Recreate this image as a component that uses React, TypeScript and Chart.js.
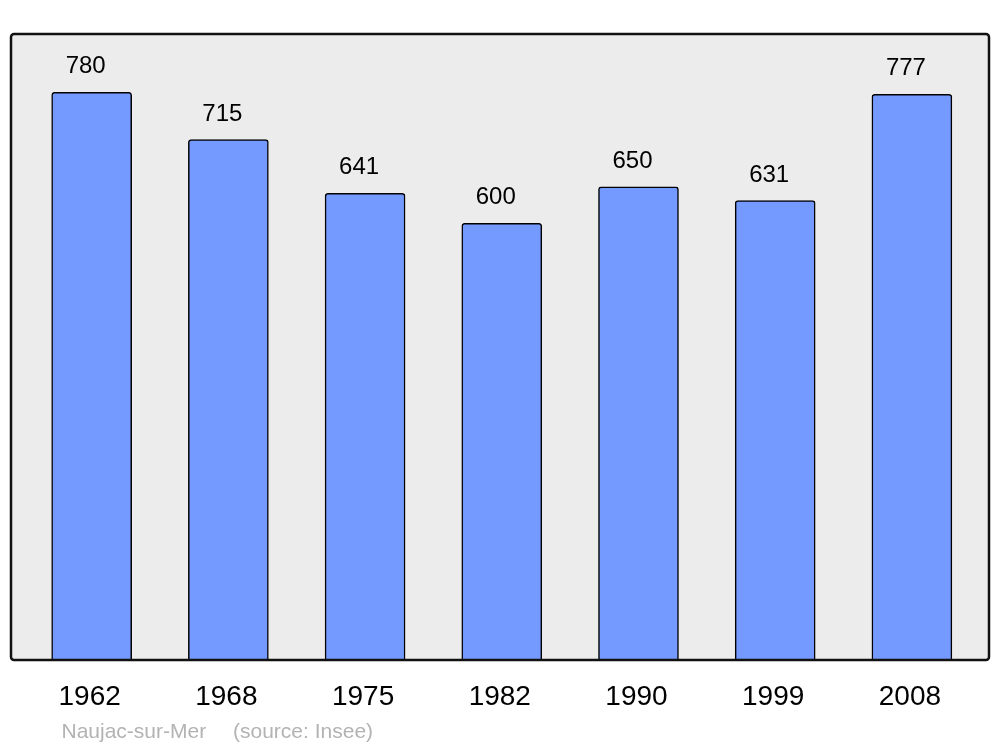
import React, { useEffect, useRef } from "react";
import { Chart, registerables } from "chart.js";

Chart.register(...registerables);

const years = ["1962", "1968", "1975", "1982", "1990", "1999", "2008"];
const population = [780, 715, 641, 600, 650, 631, 777];
const footerTitle = "Naujac-sur-Mer";
const footerSource = "(source: Insee)";

const FONT = "'Liberation Sans', Arial, sans-serif";

const framePlugin = {
  id: "frame",
  beforeDatasetsDraw(chart: any) {
    const { ctx, chartArea: a } = chart;
    ctx.save();
    ctx.beginPath();
    ctx.roundRect(a.left, a.top, a.right - a.left, a.bottom - a.top, 3);
    ctx.fillStyle = "#ececec";
    ctx.fill();
    ctx.restore();
  },
  afterDatasetsDraw(chart: any) {
    const { ctx, chartArea: a } = chart;
    ctx.save();
    ctx.beginPath();
    ctx.roundRect(a.left, a.top, a.right - a.left, a.bottom - a.top, 3);
    ctx.lineWidth = 2.5;
    ctx.strokeStyle = "#111111";
    ctx.stroke();

    // value labels
    const meta = chart.getDatasetMeta(0);
    ctx.fillStyle = "#000000";
    ctx.textAlign = "center";
    ctx.textBaseline = "alphabetic";
    ctx.font = `24px ${FONT}`;
    meta.data.forEach((el: any, i: number) => {
      ctx.fillText(String(population[i]), el.x - 6, el.y - 19);
    });

    // category labels
    const xs = chart.scales.x;
    ctx.font = `28px ${FONT}`;
    years.forEach((y, i) => {
      ctx.fillText(y, xs.getPixelForValue(i) - 2, a.bottom + 45);
    });

    // footer
    ctx.textAlign = "left";
    ctx.font = `21px ${FONT}`;
    ctx.fillStyle = "#b3b3b3";
    ctx.fillText(footerTitle, 61.5, a.bottom + 78);
    ctx.fillText(footerSource, 233, a.bottom + 78);
    ctx.restore();
  },
};

export default function App() {
  const ref = useRef<HTMLCanvasElement>(null);
  useEffect(() => {
    if (!ref.current) return;
    const chart = new Chart(ref.current, {
      type: "bar",
      data: {
        datasets: [
          {
            data: population.map((v, i) => ({ x: i, y: v })),
            backgroundColor: "#7499ff",
            borderColor: "#000000",
            borderWidth: 1.5,
            borderSkipped: "bottom",
            borderRadius: { topLeft: 3, topRight: 3, bottomLeft: 0, bottomRight: 0 },
            barThickness: 80,
          },
        ],
      },
      options: {
        responsive: false,
        animation: false,
        devicePixelRatio: 1,
        layout: { padding: { left: 11, top: 34, right: 11, bottom: 87 } },
        plugins: { legend: { display: false }, tooltip: { enabled: false } },
        scales: {
          x: { type: "linear", display: false, offset: false, bounds: "data", min: -0.59, max: 6.564 },
          y: { display: false, min: 0, max: 860 },
        },
      },
      plugins: [framePlugin],
    });
    return () => chart.destroy();
  }, []);
  return (
    <div style={{ position: "absolute", left: 0, top: 0, width: 1000, height: 747, background: "#ffffff" }}>
      <canvas ref={ref} width={1000} height={747} />
    </div>
  );
}
